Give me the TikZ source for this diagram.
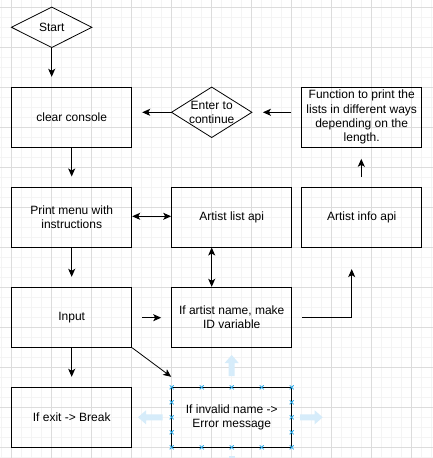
\documentclass[tikz,border=0pt]{standalone}
\usepackage{fontspec}
\setmainfont{Liberation Sans}
\usetikzlibrary{arrows.meta,calc}
\definecolor{gridminor}{RGB}{244,244,244}
\definecolor{gridmajor}{RGB}{220,220,220}
\definecolor{handle}{RGB}{41,170,235}
\definecolor{hoverarrow}{RGB}{214,236,250}
\tikzset{
  box/.style={draw=black, line width=1pt, minimum width=120pt, minimum height=60pt, inner sep=0pt, align=center, font=\fontsize{12}{14.3}\selectfont},
  dia/.style={minimum width=80pt, inner sep=0pt, align=center, font=\fontsize{12}{14.3}\selectfont},
  arr/.style={line width=1pt, -{Stealth[length=8pt,width=7pt,inset=2pt]}},
  darr/.style={line width=1pt, {Stealth[length=8pt,width=7pt,inset=2pt]}-{Stealth[length=8pt,width=7pt,inset=2pt]}},
  hx/.style={draw=handle, line width=0.8pt},
  hover/.style={fill=hoverarrow, draw=none}
}
\begin{document}
\begin{tikzpicture}[x=1pt,y=-1pt]
\useasboundingbox (0,0) rectangle (433,458);
\fill[white] (0,0) rectangle (433,458);
% grid
\foreach \k in {0,...,43} {
  \draw[gridminor, line width=0.8pt] ({1.7+10*\k},0) -- ({1.7+10*\k},458);
}
\foreach \k in {0,...,45} {
  \draw[gridminor, line width=0.8pt] (0,{7.3+10*\k}) -- (433,{7.3+10*\k});
}
\foreach \k in {0,...,10} {
  \draw[gridmajor, line width=0.8pt] ({11.7+40*\k},0) -- ({11.7+40*\k},458);
}
\foreach \k in {0,...,11} {
  \draw[gridmajor, line width=0.8pt] (0,{7.3+40*\k}) -- (433,{7.3+40*\k});
}

% diamonds
\node[dia, minimum height=40pt] (start) at (51.7,27.3) {Start};
\draw[line width=0.8pt] (start.north) -- (start.east) -- (start.south) -- (start.west) -- cycle;
\node[dia, minimum height=50pt] (enter) at (211.7,112.3) {Enter to\\continue};
\draw[line width=0.8pt] (enter.north) -- (enter.east) -- (enter.south) -- (enter.west) -- cycle;

% boxes
\node[box] (clear) at (71.7,117.3) {clear console};
\node[box] (print) at (71.7,217.0) {Print menu with\\instructions};
\node[box] (input) at (71.7,317.3) {Input};
\node[box] (exit) at (71.7,417.3) {If exit -> Break};
\node[box] (list) at (231.7,217.0) {Artist list api};
\node[box] (info) at (361.7,217.0) {Artist info api};
\node[box] (func) at (361.7,117.3) {Function to print the\\lists in different ways\\depending on the\\length.};
\node[box] (ifart) at (231.7,317.3) {If artist name, make\\ID variable};
\node[box] (invalid) at (231.7,417.3) {If invalid name ->\\Error message};

% connectors
\draw[arr] (start.south) -- ($(start.south |- clear.north)+(0pt,10pt)$);
\draw[arr] (enter.west) -- ($(enter.west -| clear.east)+(10pt,0pt)$);
\draw[arr] ($(enter.east -| func.west)+(-10pt,0pt)$) -- ($(enter.east)+(11pt,0pt)$);
\draw[arr] (clear.south) -- ($(print.north)+(0pt,10pt)$);
\draw[darr] ($(print.east)+(0pt,0.7pt)$) -- ($(list.west)+(0pt,0.7pt)$);
\draw[arr] (print.south) -- ($(input.north)+(0pt,10pt)$);
\draw[darr] ($(list.south)+(-20pt,0pt)$) -- ($(ifart.north)+(-20pt,0pt)$);
\draw[arr] ($(info.north)+(-0.4pt,10pt)$) -- ($(func.south)+(-0.4pt,-11pt)$);
\draw[arr] ($(input.east)+(10pt,-0.4pt)$) -- ($(ifart.west)+(-10pt,-0.4pt)$);
\draw[arr] (input.south) -- ($(exit.north)+(0pt,10pt)$);
\draw[line width=0.8pt, -{Stealth[length=8pt,width=7pt,inset=2pt]}] (input.south east) -- ($(invalid.north west)+(0pt,10pt)$);
\draw[arr] ($(ifart.east)+(10pt,0pt)$) -| ($(info.south)+(-10pt,-21.6pt)$);

% selection hover arrows
\fill[hover] (231.7,355) -- (238.7,363) -- (234.7,363) -- (234.7,376) -- (228.7,376) -- (228.7,363) -- (224.7,363) -- cycle;
\fill[hover] (138,417.3) -- (146,410.3) -- (146,414.3) -- (162.7,414.3) -- (162.7,420.3) -- (146,420.3) -- (146,424.3) -- cycle;
\fill[hover] (322.7,417.3) -- (314.7,410.3) -- (314.7,414.3) -- (300,414.3) -- (300,420.3) -- (314.7,420.3) -- (314.7,424.3) -- cycle;
\fill[hover] (228.7,456) rectangle (234.7,460);

% selection handles
\foreach \hxx in {171.7,201.7,231.7,261.7,291.7} {
  \foreach \hyy in {387.3,447.3} {
    \draw[hx] (\hxx-2,\hyy-2) -- (\hxx+2,\hyy+2) (\hxx-2,\hyy+2) -- (\hxx+2,\hyy-2);
  }
}
\foreach \hyy in {402.3,417.3,432.3} {
  \foreach \hxx in {171.7,291.7} {
    \draw[hx] (\hxx-2,\hyy-2) -- (\hxx+2,\hyy+2) (\hxx-2,\hyy+2) -- (\hxx+2,\hyy-2);
  }
}
\end{tikzpicture}
\end{document}
